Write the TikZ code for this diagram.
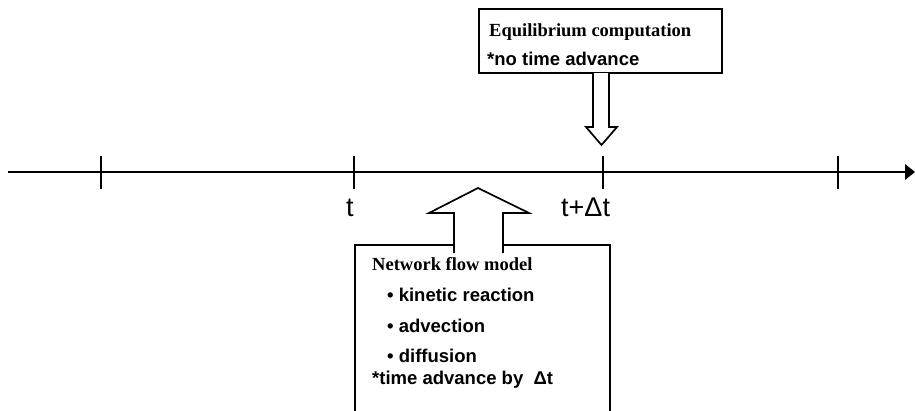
\documentclass[tikz,border=0pt]{standalone}
\usepackage{fontspec}
\setmainfont{Liberation Serif}
\setsansfont{Liberation Sans}
\begin{document}
\begin{tikzpicture}[x=1pt,y=-1pt,
  boxline/.style={draw=black,line width=1.7pt,fill=white},
  tick/.style={line width=1.5pt},
  serifb/.style={inner sep=0pt,anchor=base west,font=\fontsize{18.5}{20}\selectfont\rmfamily\bfseries},
  sansb/.style={inner sep=0pt,anchor=base west,font=\fontsize{18.5}{20}\selectfont\sffamily\bfseries},
  axlabel/.style={inner sep=0pt,anchor=base west,font=\fontsize{27}{30}\selectfont\sffamily},
  blockarrow/.style={draw=black,line width=1.7pt,line join=miter}
]
\useasboundingbox (0,0) rectangle (915,410);
% axis
\coordinate (axstart) at (8,172);
\coordinate (axend) at (906,172);
\draw[line width=2.6pt] (axstart) -- (axend);
\fill (905,164) -- (915,172) -- (905,180) -- cycle;
\foreach \x/\n in {101/a,354/b,603/c,838/d}{
  \coordinate (tk\n top) at (\x,156);
  \coordinate (tk\n bot) at (\x,189);
  \draw[tick] (tk\n top) -- (tk\n bot);
}
\node[axlabel] (lt) at (346,216) {t};
\node[axlabel] (ltdt) at (561,216) {t+Δt};
% top box
\node[boxline,minimum width=243pt,minimum height=64pt,inner sep=0pt] (eq) at (600.5,41) {};
\node[serifb] (eq1) at (489,36) {Equilibrium computation};
\node[sansb] (eq2) at (487,65) {*no time advance};
% down arrow
\coordinate (da1) at (593,73);
\coordinate (da2) at (609,73);
\draw[blockarrow,fill=white] (da1) -- (593,127) -- (586,127) -- (601.5,145) -- (617,127) -- (609,127) -- (da2);
% bottom box
\node[boxline,minimum width=255pt,minimum height=186pt,inner sep=0pt,anchor=north west] (nf) at (354,244) {};
% up arrow
\fill[white] (454,253) -- (454,213) -- (429,213) -- (478,188) -- (529,213) -- (503,213) -- (503,253) -- cycle;
\draw[blockarrow] (454,253) -- (454,213) -- (429,213) -- (478,188) -- (529,213) -- (503,213) -- (503,253);
\node[serifb] (nf1) at (372,270.5) {Network flow model};
\node[sansb] (nf2) at (387,301.5) {• kinetic reaction};
\node[sansb] (nf3) at (387,332) {• advection};
\node[sansb] (nf4) at (387,362.5) {• diffusion};
\node[sansb] (nf5) at (372,384) {*time advance by\ \ Δt};
\end{tikzpicture}
\end{document}
